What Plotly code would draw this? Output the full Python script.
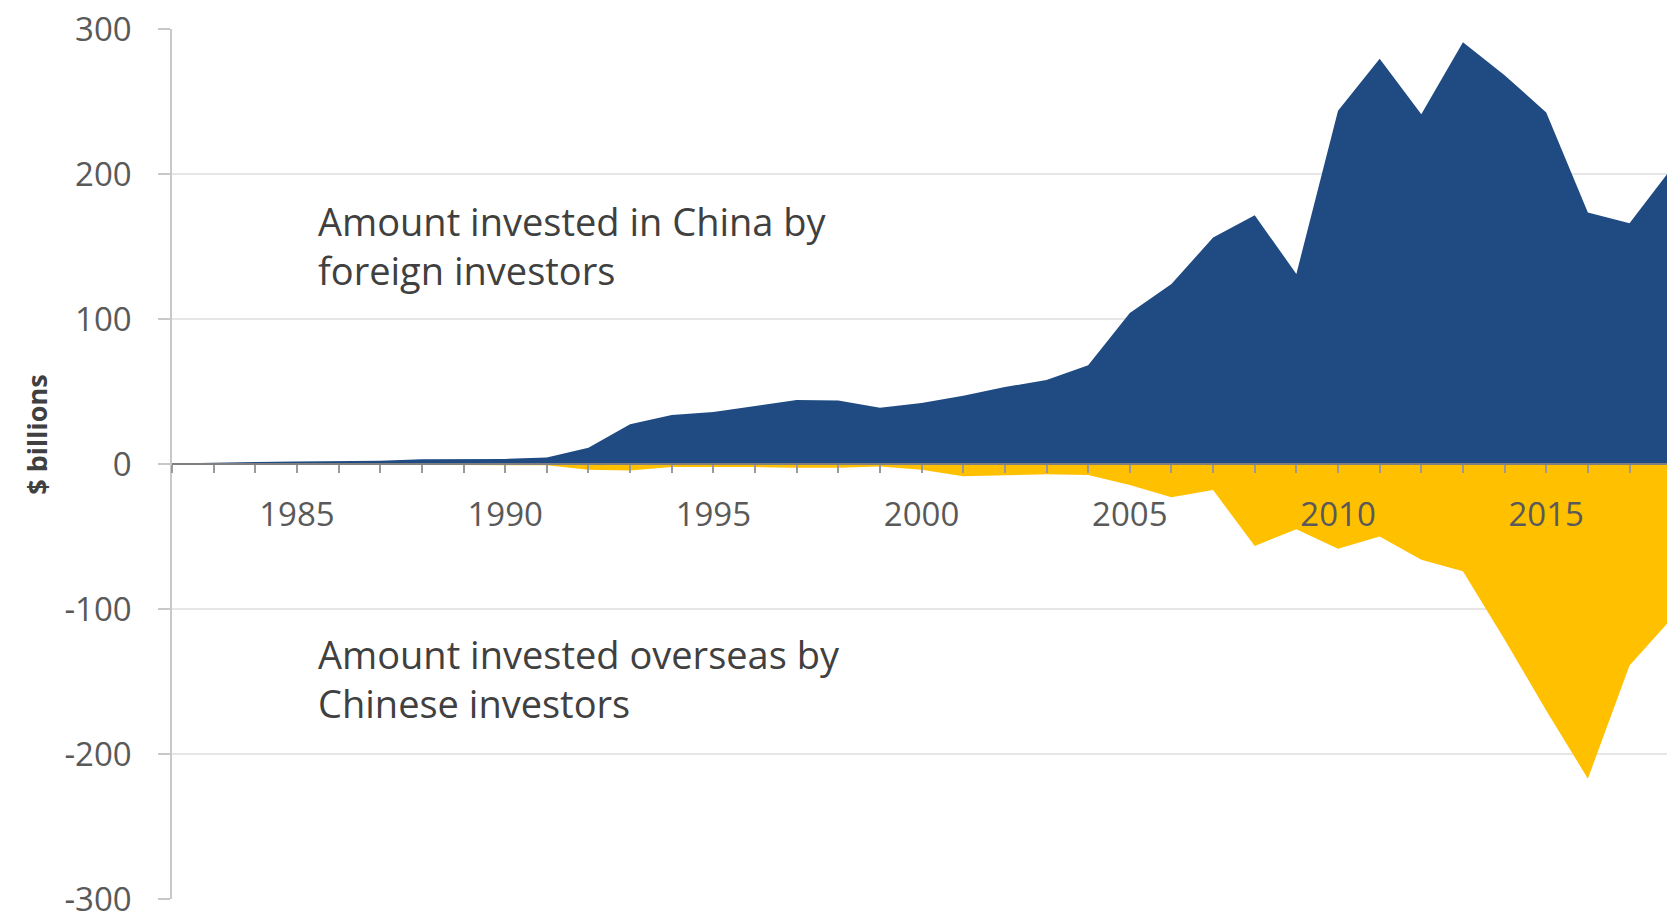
import plotly.graph_objects as go

years = list(range(1982, 2019))
inward = [0.4, 0.6, 1.3, 1.7, 1.9, 2.3, 3.2, 3.4, 3.5, 4.4, 11.2, 27.5, 33.8, 35.8,
          40.2, 44.2, 43.8, 38.8, 42.1, 47.1, 53.1, 57.9, 68.1, 104.1, 124.1, 156.2,
          171.5, 131.1, 243.7, 279.5, 241.2, 290.9, 268.1, 242.5, 173.5, 166.1, 203.5]
outward = [-0.04, -0.1, -0.13, -0.6, -0.45, -0.65, -0.85, -0.78, -0.83, -0.91, -4.0,
           -4.4, -2.0, -2.0, -2.1, -2.6, -2.6, -1.8, -4.0, -8.5, -7.5, -7.0, -7.5,
           -14.5, -23.0, -18.0, -56.5, -45.0, -58.5, -50.0, -66.0, -74.0, -121.0,
           -170.0, -217.0, -139.0, -107.0]
y_ticks = [-300, -200, -100, 0, 100, 200, 300]
x_label_years = [1985, 1990, 1995, 2000, 2005, 2010, 2015]

label_in = "Amount invested in China by<br>foreign investors"
label_out = "Amount invested overseas by<br>Chinese investors"
y_title = "$ billions"

BLUE = "#1f4b82"
GOLD = "#ffc000"
FONT = "Open Sans"

fig = go.Figure()
fig.add_trace(go.Scatter(x=years, y=inward, mode="lines", fill="tozeroy",
                         line=dict(width=0, color=BLUE), fillcolor=BLUE,
                         hoverinfo="x+y", showlegend=False))
fig.add_trace(go.Scatter(x=years, y=outward, mode="lines", fill="tozeroy",
                         line=dict(width=0, color=GOLD), fillcolor=GOLD,
                         hoverinfo="x+y", showlegend=False))

fig.update_layout(
    width=1667, height=921,
    margin=dict(l=172, r=0, t=29, b=17),
    paper_bgcolor="white", plot_bgcolor="white",
    font=dict(family=FONT, color="#595959"),
    xaxis=dict(
        range=[1982, 2017.9], anchor="free", position=0.5,
        tickmode="array", tickvals=x_label_years, ticktext=[str(v) for v in x_label_years],
        ticks="outside", ticklen=8, tickwidth=1.5, tickcolor="#9a9a9a",
        minor=dict(dtick=1, tick0=1982, ticks="outside", ticklen=8, tickwidth=1.5,
                   tickcolor="#9a9a9a", showgrid=False),
        showline=True, linecolor="#7f7f7f", linewidth=1.5,
        showgrid=False, zeroline=False,
        tickfont=dict(size=33, color="#595959", family=FONT),
        ticklabelstandoff=14,
    ),
    yaxis=dict(
        range=[-300, 300], tickvals=y_ticks, ticktext=[str(v) for v in y_ticks],
        ticks="outside", ticklen=12, tickwidth=1.5, tickcolor="#c8c8c8",
        showline=True, linecolor="#c8c8c8", linewidth=1.5,
        showgrid=True, gridcolor="#e6e6e6", gridwidth=1.5,
        zeroline=False,
        tickfont=dict(size=33, color="#595959", family=FONT),
        ticklabelstandoff=20, ticklabeloverflow="allow",
    ),
    annotations=[
        dict(text=label_in, xref="paper", yref="paper", x=0.0963, y=0.7509,
             xanchor="left", yanchor="middle", align="left", showarrow=False,
             font=dict(size=38, color="#404040", family=FONT)),
        dict(text=label_out, xref="paper", yref="paper", x=0.0963, y=0.2537,
             xanchor="left", yanchor="middle", align="left", showarrow=False,
             font=dict(size=38, color="#404040", family=FONT)),
        dict(text="<b>" + y_title + "</b>", xref="paper", yref="paper", x=-0.0903, y=0.5337,
             xanchor="center", yanchor="middle", textangle=-90, showarrow=False,
             font=dict(size=27, color="#404040", family=FONT)),
    ],
)

fig.write_html("out.html")
